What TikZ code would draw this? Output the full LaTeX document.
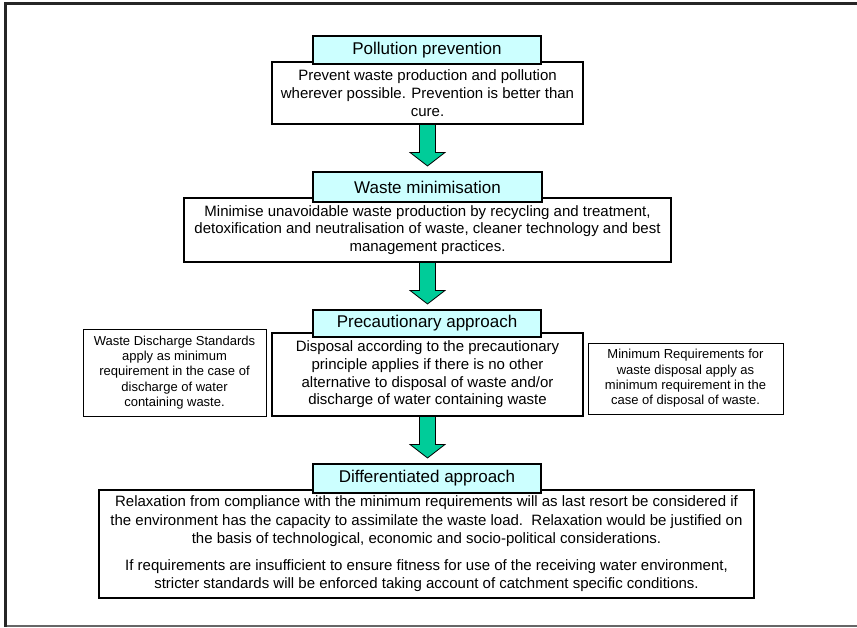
\documentclass[tikz,border=0pt]{standalone}
\usepackage{fontspec}
\setmainfont{Liberation Sans}
\usetikzlibrary{calc}
\definecolor{titlecyan}{HTML}{CCFFFF}
\definecolor{arrowgreen}{HTML}{00CC99}
\newcommand{\blockdown}[2]{%
	\draw[blockarrow] let \p1=(#1.south), \p2=(#2.north) in
		(\x1-8pt,\y1) -- (\x1-8pt,\y2+19pt) -- (\x1-17.5pt,\y2+19pt) -- (\x1,\y2+5.5pt)
		-- (\x1+17.5pt,\y2+19pt) -- (\x1+8pt,\y2+19pt) -- (\x1+8pt,\y1) -- cycle;}
\begin{document}
\begin{tikzpicture}[x=1pt, y=-1pt,
		box/.style={draw, line width=1.1pt, align=center, inner sep=0pt},
		titlebox/.style={box, fill=titlecyan, font=\fontsize{17}{20}\selectfont},
		textbox/.style={box, fill=white, font=\fontsize{15}{17.7}\selectfont},
		sidebox/.style={box, fill=white, line width=1pt, font=\fontsize{13}{15.3}\selectfont},
		blockarrow/.style={draw, line width=0.8pt, fill=arrowgreen, line join=miter}]
			\useasboundingbox (0,0) rectangle (857,627);
			\draw[line width=3pt, black!85] (857,3.7) -- (5.5,3.7) -- (5.5,627);
			\draw[line width=1.5pt, black!60] (7,626) -- (857,626);
			
			\node[textbox, minimum width=311pt, minimum height=62pt] (prevtxt) at (427.5,93) {Prevent waste production and pollution\\ wherever possible. Prevention is better than\\ cure.};
			\node[titlebox, minimum width=228pt, minimum height=28pt] (prev) at (427,50) {Pollution prevention};
			
			\node[textbox, minimum width=487pt, minimum height=64pt] (mintxt) at (427.5,230) {Minimise unavoidable waste production by recycling and treatment,\\ detoxification and neutralisation of waste, cleaner technology and best\\ management practices.};
			\node[titlebox, minimum width=229pt, minimum height=30pt] (min) at (427.5,187) {Waste minimisation};
			
			\node[textbox, minimum width=311pt, minimum height=83pt] (prectxt) at (427.5,374.5) {Disposal according to the precautionary\\ principle applies if there is no other\\ alternative to disposal of waste and/or\\ discharge of water containing waste};
			\node[titlebox, minimum width=228pt, minimum height=27pt] (prec) at (427,323.5) {Precautionary approach};
			
			\node[sidebox, minimum width=183pt, minimum height=87pt] (dischg) at (174.5,372.5) {Waste Discharge Standards\\ apply as minimum\\ requirement in the case of\\ discharge of water\\ containing waste.};
			\node[sidebox, minimum width=195pt, minimum height=71pt] (disp) at (685.5,378.5) {Minimum Requirements for\\ waste disposal apply as\\ minimum requirement in the\\ case of disposal of waste.};
			
			\node[textbox, minimum width=655pt, minimum height=108pt, font=\fontsize{15}{18.5}\selectfont] (difftxt) at (426.5,544) {Relaxation from compliance with the minimum requirements will as last resort be considered if\\ the environment has the capacity to assimilate the waste load.\ \ Relaxation would be justified on\\ the basis of technological, economic and socio-political considerations.\\[8pt] If requirements are insufficient to ensure fitness for use of the receiving water environment,\\ stricter standards will be enforced taking account of catchment specific conditions.};
			\node[titlebox, minimum width=228pt, minimum height=29pt] (diff) at (427,478.5) {Differentiated approach};
			
			\blockdown{prevtxt}{min}
			\blockdown{mintxt}{prec}
			\blockdown{prectxt}{diff}
			
		\end{tikzpicture}
\end{document}
